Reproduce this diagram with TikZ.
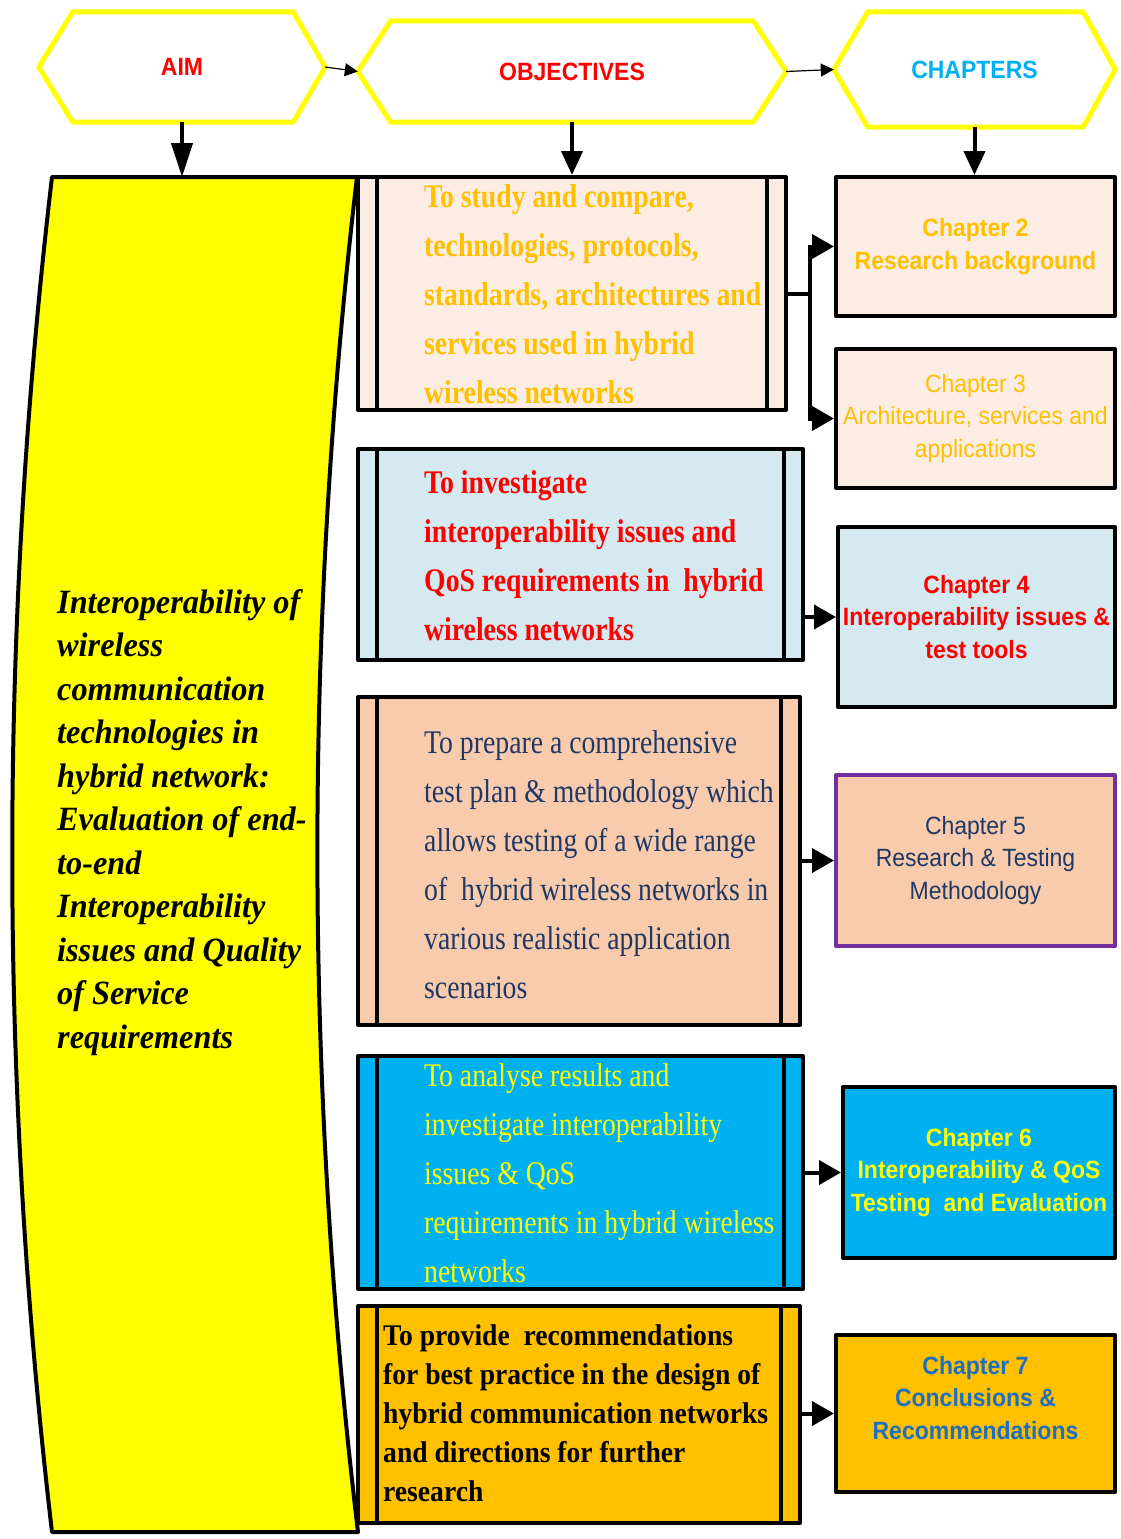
\documentclass[tikz,border=0pt]{standalone}
\usepackage{fontspec}
\usetikzlibrary{arrows.meta}
\newfontfamily\objfont[FakeStretch=0.84]{Liberation Serif}
\newfontfamily\boxfivefont[FakeStretch=0.92]{Liberation Serif}
\newfontfamily\aimfont[FakeStretch=0.95]{Liberation Serif}
\newfontfamily\chapfont[FakeStretch=0.92]{Liberation Sans}
\definecolor{gold}{HTML}{FFC000}
\definecolor{hotred}{HTML}{FF0000}
\definecolor{navy}{HTML}{1F3864}
\definecolor{skycyan}{HTML}{00B0F0}
\definecolor{lemon}{HTML}{FFFF00}
\definecolor{chapblue}{HTML}{1F6FC0}
\definecolor{paleorange}{HTML}{FCEDE4}
\definecolor{paleblue}{HTML}{D5EAF0}
\definecolor{peach}{HTML}{F8CBAD}
\definecolor{plum}{HTML}{7030A0}
\tikzset{
  hexlabel/.style={draw=none, inner sep=0pt,
    font=\chapfont\bfseries\fontsize{25}{30}\selectfont},
  hexline/.style={draw=lemon, line width=5pt, line join=round},
  objbox/.style={draw, line width=4pt, line join=round, inner sep=0pt,
    path picture={
      \draw[line width=4pt]
        ([xshift=19pt]path picture bounding box.north west) --
        ([xshift=19pt]path picture bounding box.south west);
      \draw[line width=4pt]
        ([xshift=-19pt]path picture bounding box.north east) --
        ([xshift=-19pt]path picture bounding box.south east);}},
  % multi-line text: the base anchor sits on the last line's baseline
  objtext/.style={anchor=base west, align=left, inner sep=0pt},
  objreg/.style={objtext, font=\objfont\fontsize{33}{49}\selectfont},
  objbold/.style={objtext, font=\objfont\bfseries\fontsize{33}{49}\selectfont},
  chapbox/.style={draw, line width=4pt, line join=round, align=center, inner sep=0pt},
  chapreg/.style={chapbox, font=\chapfont\fontsize{25}{32.5}\selectfont},
  chapbold/.style={chapbox, font=\chapfont\bfseries\fontsize{25}{32.5}\selectfont},
  link/.style={line width=4pt, -{Triangle[length=22pt,width=24pt]}},
  downarrow/.style={line width=4pt, -{Triangle[length=24pt,width=21pt]}},
  thinarrow/.style={line width=1.2pt, -{Triangle[length=13pt,width=13pt]}},
}
\begin{document}
\begin{tikzpicture}[x=1pt,y=-1pt]
\useasboundingbox (0,0) rectangle (1120,1539);

% ---- header hexagons ----
\node[hexlabel, text=hotred, minimum width=286pt, minimum height=110pt] (aim) at (182,67) {AIM};
\draw[hexline] (aim.west) -- ([xshift=34pt]aim.north west) -- ([xshift=-32pt]aim.north east)
  -- (aim.east) -- ([xshift=-32pt]aim.south east) -- ([xshift=34pt]aim.south west) -- cycle;

\node[hexlabel, text=hotred, minimum width=428pt, minimum height=101pt] (obj) at (572,71.5) {OBJECTIVES};
\draw[hexline] (obj.west) -- ([xshift=33pt]obj.north west) -- ([xshift=-33pt]obj.north east)
  -- (obj.east) -- ([xshift=-33pt]obj.south east) -- ([xshift=33pt]obj.south west) -- cycle;

\node[hexlabel, text=skycyan, minimum width=281pt, minimum height=115pt] (chap) at (974.5,69.5) {CHAPTERS};
\draw[hexline] (chap.west) -- ([xshift=34pt]chap.north west) -- ([xshift=-32pt]chap.north east)
  -- (chap.east) -- ([xshift=-32pt]chap.south east) -- ([xshift=34pt]chap.south west) -- cycle;

\draw[thinarrow] (aim.east) -- (obj.west);
\draw[thinarrow] (obj.east) -- (chap.west);

% ---- aim banner ----
\draw[line width=4pt, line join=round, fill=lemon]
  (52,177) -- (357,177) .. controls (304,628) and (304,1080) .. (358,1532)
  -- (52,1532) .. controls (-1,1080) and (-1,628) .. (52,177) -- cycle;
\coordinate (bannertop) at (183,177);
\node[objtext, font=\aimfont\bfseries\itshape\fontsize{34}{43.5}\selectfont] (aimtext) at (57,1048)
  {Interoperability of\\wireless\\communication\\technologies in\\hybrid network:\\Evaluation of end-\\to-end\\Interoperability\\issues and Quality\\of Service\\requirements};

% ---- objective boxes ----
\node[objbox, fill=paleorange, minimum width=428pt, minimum height=233pt] (o1) at (572,293.5) {};
\node[objbox, fill=paleblue, minimum width=445pt, minimum height=211pt] (o2) at (580.5,554.5) {};
\node[objbox, fill=peach, minimum width=442pt, minimum height=328pt] (o3) at (579,861) {};
\node[objbox, fill=skycyan, minimum width=445pt, minimum height=233pt] (o4) at (580.5,1172.5) {};
\node[objbox, fill=gold, minimum width=442pt, minimum height=217pt] (o5) at (579,1414.5) {};

\node[objbold, text=gold] (t1) at (424,403)
  {To study and compare,\\technologies, protocols,\\standards, architectures and\\services used in hybrid\\wireless networks};
\node[objbold, text=hotred] (t2) at (424,640)
  {To investigate\\interoperability issues and\\QoS requirements in~ hybrid\\wireless networks};
\node[objreg, text=navy] (t3) at (424,998)
  {To prepare a comprehensive\\test plan \& methodology which\\allows testing of a wide range\\of~ hybrid wireless networks in\\various realistic application\\scenarios};
\node[objreg, text=lemon] (t4) at (424,1282)
  {To analyse results and\\investigate interoperability\\issues \& QoS\\requirements in hybrid wireless\\networks};
\node[objtext, font=\boxfivefont\bfseries\fontsize{30}{39}\selectfont, text=black] (t5) at (383,1501)
  {To provide~ recommendations\\for best practice in the design of\\hybrid communication networks\\and directions for further\\research};

% ---- chapter boxes ----
\node[chapbold, fill=paleorange, text=gold, minimum width=279pt, minimum height=139pt] (c2) at (975.5,246.5)
  {Chapter 2\\Research background};
\node[chapreg, fill=paleorange, text=gold, minimum width=279pt, minimum height=139pt] (c3) at (975.5,418.5)
  {Chapter 3\\Architecture, services and\\applications};
\node[chapbold, fill=paleblue, text=hotred, minimum width=277pt, minimum height=180pt] (c4) at (976.5,617)
  {Chapter 4\\Interoperability issues \&\\test tools};
\node[chapreg, draw=plum, fill=peach, text=navy, minimum width=279pt, minimum height=171pt] (c5) at (975.5,860.5)
  {Chapter 5\\Research \& Testing\\Methodology};
\node[chapbold, fill=skycyan, text=lemon, minimum width=272pt, minimum height=171pt] (c6) at (979,1172.5)
  {Chapter 6\\Interoperability \& QoS\\Testing~ and Evaluation};
\node[chapbold, fill=gold, text=chapblue, minimum width=279pt, minimum height=157pt] (c7) at (975.5,1413.5)
  {Chapter 7\\Conclusions \&\\Recommendations\\[-0.5pt]\mbox{}};

% ---- downward arrows from the headers ----
\draw[line width=4pt, -{Triangle[length=34pt,width=21pt]}] (aim.south) -- (aim.south |- bannertop);
\draw[downarrow] (obj.south) -- (o1.north);
\draw[downarrow] (chap.south) -- (chap.south |- c2.north);

% ---- objective to chapter links ----
\coordinate (split) at (810,293.5);
\draw[line width=4pt] (o1.east) -- (split);
\draw[link] (split) |- (c2.west);
\draw[link] (split) |- (c3.west);
\draw[link] (o2.east |- c4.west) -- (c4.west);
\draw[link] (o3.east |- c5.west) -- (c5.west);
\draw[link] (o4.east |- c6.west) -- (c6.west);
\draw[link] (o5.east |- c7.west) -- (c7.west);
\end{tikzpicture}
\end{document}
